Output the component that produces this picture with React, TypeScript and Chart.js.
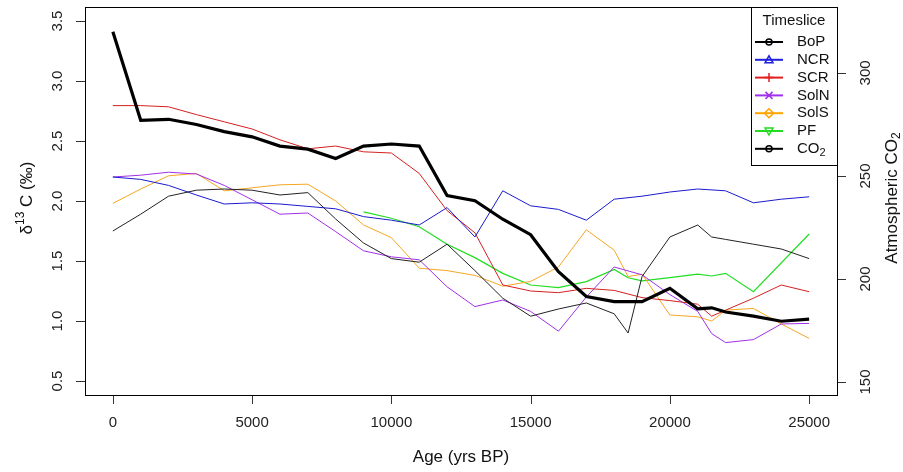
import React, { useEffect, useRef } from "react";
import { Chart, registerables } from "chart.js";

Chart.register(...registerables);

const ages = [0, 1000, 2000, 3000, 4000, 5000, 6000, 7000, 8000, 9000, 10000, 11000, 12000, 13000, 14000, 15000, 16000, 17000, 18000, 18500, 19000, 20000, 21000, 21500, 22000, 23000, 24000, 25000];

const BoP = [1.75, 1.89, 2.04, 2.09, 2.1, 2.09, 2.05, 2.07, 1.85, 1.65, 1.52, 1.49, 1.64, 1.42, 1.19, 1.04, 1.1, 1.15, 1.06, 0.9, 1.37, 1.7, 1.8, 1.7, 1.68, 1.64, 1.6, 1.52];
const NCR = [2.2, 2.18, 2.13, 2.05, 1.975, 1.985, 1.975, 1.955, 1.935, 1.87, 1.84, 1.8, 1.945, 1.7, 2.085, 1.96, 1.93, 1.84, 2.015, null, 2.04, 2.075, 2.1, null, 2.085, 1.985, 2.015, 2.035];
const SCR = [2.795, 2.795, 2.785, 2.72, 2.66, 2.6, 2.51, 2.435, 2.458, 2.41, 2.4, 2.23, 1.92, 1.735, 1.3, 1.25, 1.236, 1.272, 1.255, null, 1.195, 1.17, 1.14, 1.04, 1.09, 1.19, 1.3, 1.244];
const SolN = [2.2, 2.215, 2.24, 2.225, 2.13, 2.01, 1.89, 1.9, 1.745, 1.585, 1.535, 1.51, 1.285, 1.12, 1.175, 1.08, 0.915, 1.2, 1.45, null, 1.385, 1.22, 1.08, 0.895, 0.82, 0.845, 0.975, 0.98];
const SolS = [1.98, 2.1, 2.21, 2.23, 2.085, 2.11, 2.135, 2.14, 2.0, 1.8, 1.695, 1.44, 1.42, 1.38, 1.29, 1.33, 1.45, 1.76, 1.59, 1.37, 1.39, 1.05, 1.035, 1.0, 1.09, 1.105, 0.975, 0.855];
const PF = [null, null, null, null, null, null, null, null, null, 1.91, 1.856, 1.786, 1.64, 1.528, 1.397, 1.3, 1.278, 1.328, 1.43, 1.36, 1.335, 1.362, 1.39, 1.375, 1.397, 1.244, null, 1.725];
const CO2 = [320, 277, 277.5, 275, 271.5, 269, 264.5, 263, 258.5, 264.5, 265.5, 264.5, 240.5, 238, 229, 221.5, 203.5, 191.5, 189, null, 189, 195.5, 185.5, 186, 184, 182, 179.5, 180.5];

const xTicks = [0, 5000, 10000, 15000, 20000, 25000];
const yTicks = [0.5, 1.0, 1.5, 2.0, 2.5, 3.0, 3.5];
const y2Ticks = [150, 200, 250, 300];
const yTickLabels = ["0.5", "1.0", "1.5", "2.0", "2.5", "3.0", "3.5"];

const legendNames = ["BoP", "NCR", "SCR", "SolN", "SolS", "PF", "CO2"];
const legendColors = ["#000000", "#1f1fe0", "#e01f1f", "#a030ee", "#ffa500", "#22dd22", "#000000"];
const legendShapes = ["circle", "triangle", "plus", "cross", "diamond", "downtriangle", "circle"];

const FONT = '"Liberation Sans", Arial, Helvetica, sans-serif';

function pts(vals: (number | null)[]) {
  return ages.map((a, i) => ({ x: a, y: vals[i] }));
}

function drawRich(ctx: CanvasRenderingContext2D, parts: { t: string; size: number; dy: number }[], cx: number, cy: number, rot: number) {
  ctx.save();
  ctx.translate(cx, cy);
  ctx.rotate(rot);
  let total = 0;
  const widths = parts.map((p) => {
    ctx.font = `${p.size}px ${FONT}`;
    const w = ctx.measureText(p.t).width;
    total += w;
    return w;
  });
  let x = -total / 2;
  ctx.textAlign = "left";
  ctx.textBaseline = "middle";
  parts.forEach((p, i) => {
    ctx.font = `${p.size}px ${FONT}`;
    ctx.fillText(p.t, x, p.dy);
    x += widths[i];
  });
  ctx.restore();
}

function drawMarker(ctx: CanvasRenderingContext2D, shape: string, x: number, y: number) {
  const r = 3.5;
  ctx.beginPath();
  if (shape === "circle") {
    ctx.arc(x, y, 3, 0, Math.PI * 2);
  } else if (shape === "triangle") {
    ctx.moveTo(x, y - r - 0.5);
    ctx.lineTo(x + r + 0.5, y + r - 0.5);
    ctx.lineTo(x - r - 0.5, y + r - 0.5);
    ctx.closePath();
  } else if (shape === "downtriangle") {
    ctx.moveTo(x, y + r + 0.5);
    ctx.lineTo(x + r + 0.5, y - r + 0.5);
    ctx.lineTo(x - r - 0.5, y - r + 0.5);
    ctx.closePath();
  } else if (shape === "plus") {
    ctx.moveTo(x - r - 1, y);
    ctx.lineTo(x + r + 1, y);
    ctx.moveTo(x, y - r - 1);
    ctx.lineTo(x, y + r + 1);
  } else if (shape === "cross") {
    ctx.moveTo(x - r, y - r);
    ctx.lineTo(x + r, y + r);
    ctx.moveTo(x + r, y - r);
    ctx.lineTo(x - r, y + r);
  } else if (shape === "diamond") {
    ctx.moveTo(x, y - r - 1);
    ctx.lineTo(x + r + 1, y);
    ctx.lineTo(x, y + r + 1);
    ctx.lineTo(x - r - 1, y);
    ctx.closePath();
  }
  ctx.stroke();
}

const overlay = {
  id: "overlay",
  afterDraw(chart: any) {
    const ctx: CanvasRenderingContext2D = chart.ctx;
    const { left, right, top, bottom } = chart.chartArea;
    const sx = chart.scales.x;
    const sy = chart.scales.y;
    const sy2 = chart.scales.y2;
    ctx.save();
    // box
    ctx.strokeStyle = "#000";
    ctx.lineWidth = 1;
    ctx.strokeRect(Math.round(left) + 0.5, Math.round(top) + 0.5, Math.round(right - left), Math.round(bottom - top));
    // ticks
    ctx.strokeStyle = "#333";
    ctx.beginPath();
    xTicks.forEach((v) => {
      const px = Math.round(sx.getPixelForValue(v)) + 0.5;
      ctx.moveTo(px, bottom + 1);
      ctx.lineTo(px, bottom + 9);
    });
    yTicks.forEach((v) => {
      const py = Math.round(sy.getPixelForValue(v)) + 0.5;
      ctx.moveTo(left, py);
      ctx.lineTo(left - 9, py);
    });
    y2Ticks.forEach((v) => {
      const py = Math.round(sy2.getPixelForValue(v)) + 0.5;
      ctx.moveTo(right + 1, py);
      ctx.lineTo(right + 9, py);
    });
    ctx.stroke();
    // tick labels
    ctx.fillStyle = "#222";
    ctx.font = `15px ${FONT}`;
    ctx.textAlign = "center";
    ctx.textBaseline = "middle";
    xTicks.forEach((v) => {
      ctx.fillText(String(v), sx.getPixelForValue(v), bottom + 28);
    });
    yTicks.forEach((v, i) => {
      ctx.save();
      ctx.translate(left - 27, sy.getPixelForValue(v));
      ctx.rotate(-Math.PI / 2);
      ctx.fillText(yTickLabels[i], 0, 0);
      ctx.restore();
    });
    y2Ticks.forEach((v) => {
      ctx.save();
      ctx.translate(right + 29, sy2.getPixelForValue(v));
      ctx.rotate(-Math.PI / 2);
      ctx.fillText(String(v), 0, 0);
      ctx.restore();
    });
    // axis titles
    ctx.fillStyle = "#111";
    drawRich(ctx, [{ t: "Age (yrs BP)", size: 17, dy: 0 }], (left + right) / 2, 457, 0);
    drawRich(
      ctx,
      [
        { t: "\u03b4", size: 17, dy: 0 },
        { t: "13", size: 12, dy: -6 },
        { t: " C (\u2030)", size: 17, dy: 0 },
      ],
      27,
      198,
      -Math.PI / 2
    );
    drawRich(
      ctx,
      [
        { t: "Atmospheric CO", size: 17, dy: 0 },
        { t: "2", size: 12, dy: 5 },
      ],
      892,
      198,
      -Math.PI / 2
    );
    // legend
    const lx0 = 751, ly0 = 7, lx1 = 837, ly1 = 165;
    ctx.fillStyle = "#fff";
    ctx.fillRect(lx0, ly0, lx1 - lx0, ly1 - ly0);
    ctx.strokeStyle = "#000";
    ctx.lineWidth = 1;
    ctx.strokeRect(lx0 + 0.5, ly0 + 0.5, lx1 - lx0, ly1 - ly0);
    ctx.fillStyle = "#111";
    ctx.font = `15px ${FONT}`;
    ctx.textAlign = "center";
    ctx.textBaseline = "middle";
    ctx.fillText("Timeslice", 794, 21);
    legendNames.forEach((name, i) => {
      const y = 42 + i * 17.8;
      ctx.strokeStyle = legendColors[i];
      ctx.lineWidth = 2;
      ctx.beginPath();
      ctx.moveTo(755, y);
      ctx.lineTo(783, y);
      ctx.stroke();
      ctx.lineWidth = 1.5;
      drawMarker(ctx, legendShapes[i], 769, y);
      ctx.fillStyle = "#111";
      if (name === "CO2") {
        ctx.textAlign = "left";
        ctx.font = `15px ${FONT}`;
        ctx.fillText("CO", 797, y);
        const w = ctx.measureText("CO").width;
        ctx.font = `11px ${FONT}`;
        ctx.fillText("2", 797 + w, y + 4);
      } else {
        ctx.textAlign = "left";
        ctx.font = `15px ${FONT}`;
        ctx.fillText(name, 797, y);
      }
    });
    ctx.restore();
  },
};

export default function App() {
  const ref = useRef<HTMLCanvasElement | null>(null);
  useEffect(() => {
    if (!ref.current) return;
    const mk = (label: string, vals: (number | null)[], color: string, width: number, axis: string, order: number) => ({
      label,
      data: pts(vals),
      borderColor: color,
      backgroundColor: color,
      borderWidth: width,
      pointRadius: 0,
      tension: 0,
      spanGaps: true,
      fill: false,
      yAxisID: axis,
      order,
    });
    const chart = new Chart(ref.current, {
      type: "line",
      data: {
        datasets: [
          mk("CO2", CO2, "#000000", 3.2, "y2", 0),
          mk("BoP", BoP, "#222222", 1, "y", 1),
          mk("NCR", NCR, "#1a1acc", 1, "y", 1),
          mk("SCR", SCR, "#d42020", 1, "y", 1),
          mk("SolN", SolN, "#a030e8", 1, "y", 1),
          mk("SolS", SolS, "#f5a623", 1, "y", 1),
          mk("PF", PF, "#22dd22", 1.2, "y", 1),
        ] as any,
      },
      options: {
        animation: false,
        responsive: false,
        devicePixelRatio: 1,
        layout: { padding: { top: 7, left: 0, right: 0, bottom: 0 } },
        plugins: { legend: { display: false }, tooltip: { enabled: false } },
        scales: {
          x: {
            type: "linear",
            min: -1000,
            max: 26000,
            grid: { display: false },
            border: { display: false },
            ticks: { display: false },
            afterFit: (s: any) => {
              s.height = 77;
            },
          },
          y: {
            position: "left",
            min: 0.3833,
            max: 3.6167,
            grid: { display: false },
            border: { display: false },
            ticks: { display: false },
            afterFit: (s: any) => {
              s.width = 85;
            },
          },
          y2: {
            position: "right",
            min: 143.7,
            max: 332,
            grid: { display: false },
            border: { display: false },
            ticks: { display: false },
            afterFit: (s: any) => {
              s.width = 66;
            },
          },
        },
      } as any,
      plugins: [overlay],
    });
    return () => chart.destroy();
  }, []);
  return (
    <div style={{ position: "absolute", left: 0, top: 0, width: 903, height: 472, background: "#fff" }}>
      <canvas ref={ref} width={903} height={472} style={{ width: 903, height: 472, display: "block" }} />
    </div>
  );
}
